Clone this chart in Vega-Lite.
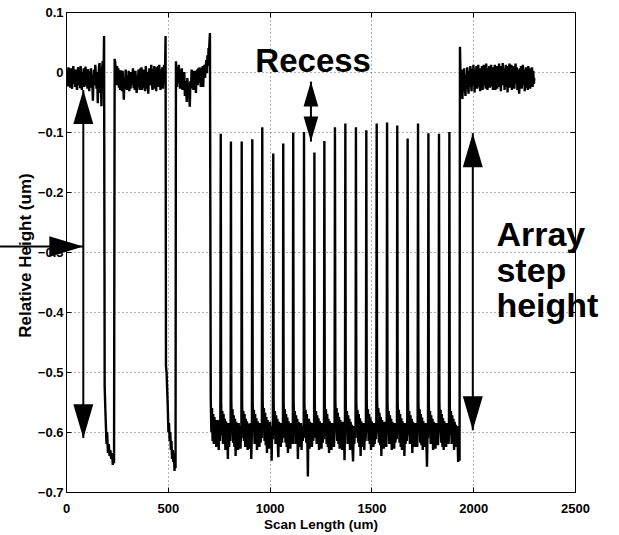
{
"$schema": "https://vega.github.io/schema/vega-lite/v6.json",
"width": 509, "height": 480,
"autosize": {"type": "none"},
"padding": {"left": 66, "top": 12, "right": 44, "bottom": 43},
"background": "white",
"config": {"view": {"stroke": "#000", "strokeWidth": 1}, "font": "Liberation Sans"},
"datasets": {
"profile": [
{"x":0,"y":-0.005},{"x":3,"y":-0.02},{"x":6,"y":0.004},{"x":9,"y":-0.024},{"x":12,"y":0.008},{"x":15,"y":-0.018},{"x":18,"y":0.002},{"x":21,"y":-0.026},{"x":24,"y":0.006},{"x":27,"y":-0.015},{"x":30,"y":-0.028},{"x":33,"y":0.0},{"x":36,"y":0.01},{"x":39,"y":-0.02},{"x":42,"y":-0.005},{"x":45,"y":-0.025},{"x":48,"y":0.004},{"x":51,"y":-0.018},{"x":54,"y":-0.03},{"x":57,"y":0.002},{"x":60,"y":0.008},{"x":63,"y":-0.022},{"x":66,"y":-0.004},{"x":69,"y":-0.027},{"x":72,"y":0.01},{"x":75,"y":-0.012},{"x":78,"y":-0.03},{"x":81,"y":0.0},{"x":84,"y":-0.02},{"x":87,"y":0.006},{"x":90,"y":-0.025},{"x":93,"y":-0.008},{"x":96,"y":0.009},{"x":99,"y":-0.022},{"x":102,"y":-0.003},{"x":105,"y":-0.028},{"x":108,"y":0.005},{"x":111,"y":-0.015},{"x":114,"y":-0.032},{"x":117,"y":0.002},{"x":120,"y":-0.018},{"x":123,"y":0.006},{"x":126,"y":-0.026},{"x":129,"y":-0.01},{"x":132,"y":-0.048},{"x":135,"y":-0.012},{"x":138,"y":0.004},{"x":141,"y":-0.022},{"x":144,"y":0.012},{"x":147,"y":-0.008},{"x":150,"y":-0.028},{"x":153,"y":0.0},{"x":156,"y":-0.052},{"x":159,"y":-0.015},{"x":162,"y":0.008},{"x":165,"y":0.015},{"x":168,"y":-0.035},{"x":171,"y":-0.01},{"x":174,"y":-0.057},{"x":177,"y":0.002},{"x":180,"y":0.018},{"x":183,"y":-0.015},{"x":185,"y":0.01},{"x":187,"y":0.06},
{"x":190,"y":-0.525},{"x":193,"y":-0.56},{"x":196,"y":-0.59},{"x":199,"y":-0.62},{"x":202,"y":-0.6},{"x":206,"y":-0.635},{"x":210,"y":-0.62},{"x":214,"y":-0.64},{"x":218,"y":-0.63},{"x":222,"y":-0.645},{"x":226,"y":-0.635},{"x":230,"y":-0.655},{"x":233,"y":-0.64},{"x":236,"y":-0.652},{"x":239,"y":0.022},
{"x":242,"y":0.015},{"x":245,"y":-0.005},{"x":248,"y":-0.022},{"x":251,"y":0.01},{"x":254,"y":-0.012},{"x":257,"y":0.006},{"x":260,"y":-0.026},{"x":263,"y":-0.004},{"x":266,"y":-0.03},{"x":269,"y":0.003},{"x":272,"y":-0.018},{"x":275,"y":-0.032},{"x":278,"y":0.002},{"x":281,"y":-0.02},{"x":284,"y":-0.046},{"x":287,"y":-0.01},{"x":290,"y":-0.028},{"x":293,"y":0.004},{"x":296,"y":-0.015},{"x":299,"y":-0.03},{"x":302,"y":-0.005},{"x":305,"y":-0.025},{"x":308,"y":0.002},{"x":311,"y":-0.032},{"x":314,"y":-0.01},{"x":317,"y":-0.028},{"x":320,"y":0.0},{"x":323,"y":-0.022},{"x":326,"y":-0.008},{"x":329,"y":0.006},{"x":332,"y":-0.027},{"x":335,"y":-0.012},{"x":338,"y":-0.03},{"x":341,"y":0.002},{"x":344,"y":-0.02},{"x":347,"y":-0.035},{"x":350,"y":-0.006},{"x":353,"y":-0.025},{"x":356,"y":0.004},{"x":359,"y":-0.018},{"x":362,"y":-0.03},{"x":365,"y":0.006},{"x":368,"y":-0.012},{"x":371,"y":0.008},{"x":374,"y":-0.03},{"x":377,"y":-0.005},{"x":380,"y":-0.026},{"x":383,"y":0.004},{"x":386,"y":-0.02},{"x":389,"y":-0.032},{"x":392,"y":0.01},{"x":395,"y":-0.01},{"x":398,"y":-0.028},{"x":401,"y":0.0},{"x":404,"y":-0.036},{"x":407,"y":-0.008},{"x":410,"y":0.006},{"x":413,"y":-0.022},{"x":416,"y":-0.002},{"x":419,"y":0.012},{"x":422,"y":-0.02},{"x":425,"y":-0.03},{"x":428,"y":0.005},{"x":431,"y":-0.015},{"x":434,"y":0.01},{"x":437,"y":-0.028},{"x":440,"y":-0.005},{"x":443,"y":-0.032},{"x":446,"y":0.008},{"x":449,"y":-0.018},{"x":452,"y":0.01},{"x":455,"y":-0.025},{"x":458,"y":0.012},{"x":461,"y":-0.01},{"x":464,"y":-0.03},{"x":467,"y":0.004},{"x":470,"y":-0.02},{"x":473,"y":0.008},{"x":476,"y":-0.028},{"x":479,"y":0.0},{"x":482,"y":0.012},{"x":485,"y":-0.02},{"x":487,"y":0.01},{"x":489,"y":0.06},
{"x":491,"y":-0.49},{"x":494,"y":-0.5},{"x":497,"y":-0.53},{"x":500,"y":-0.56},{"x":503,"y":-0.6},{"x":506,"y":-0.585},{"x":509,"y":-0.615},{"x":512,"y":-0.6},{"x":515,"y":-0.63},{"x":518,"y":-0.615},{"x":521,"y":-0.645},{"x":524,"y":-0.63},{"x":527,"y":-0.65},{"x":530,"y":-0.635},{"x":533,"y":-0.665},{"x":536,"y":-0.645},{"x":538,"y":-0.66},{"x":540,"y":0.018},
{"x":542,"y":-0.005},{"x":545,"y":-0.025},{"x":548,"y":0.008},{"x":551,"y":-0.018},{"x":554,"y":0.012},{"x":557,"y":-0.01},{"x":560,"y":-0.028},{"x":563,"y":0.004},{"x":566,"y":-0.015},{"x":569,"y":0.006},{"x":572,"y":-0.03},{"x":575,"y":-0.008},{"x":578,"y":-0.022},{"x":581,"y":0.0},{"x":584,"y":-0.04},{"x":587,"y":-0.015},{"x":590,"y":-0.025},{"x":593,"y":-0.05},{"x":596,"y":-0.01},{"x":599,"y":-0.03},{"x":602,"y":-0.018},{"x":605,"y":-0.04},{"x":608,"y":-0.058},{"x":611,"y":-0.015},{"x":614,"y":-0.028},{"x":617,"y":0.004},{"x":620,"y":-0.02},{"x":623,"y":0.002},{"x":626,"y":-0.03},{"x":629,"y":-0.008},{"x":632,"y":-0.025},{"x":635,"y":0.002},{"x":638,"y":-0.035},{"x":641,"y":-0.01},{"x":644,"y":0.004},{"x":647,"y":-0.022},{"x":650,"y":0.006},{"x":653,"y":-0.018},{"x":656,"y":0.008},{"x":659,"y":-0.012},{"x":662,"y":-0.025},{"x":665,"y":0.006},{"x":668,"y":-0.015},{"x":671,"y":0.01},{"x":674,"y":-0.025},{"x":677,"y":0.004},{"x":680,"y":0.012},{"x":683,"y":-0.01},{"x":686,"y":0.008},{"x":689,"y":0.02},{"x":692,"y":-0.002},{"x":695,"y":0.028},{"x":698,"y":0.01},{"x":700,"y":0.04},{"x":702,"y":0.02},{"x":704,"y":0.045},{"x":707,"y":0.065},
{"x":711,"y":-0.545},{"x":714,"y":-0.6},{"x":717,"y":-0.56},{"x":720,"y":-0.615},{"x":723,"y":-0.57},{"x":726,"y":-0.62},{"x":729,"y":-0.575},{"x":732,"y":-0.61},{"x":735,"y":-0.58},{"x":738,"y":-0.625},{"x":741,"y":-0.585},{"x":744,"y":-0.615},{"x":747,"y":-0.58},{"x":750,"y":-0.63},{"x":753,"y":-0.59},{"x":756,"y":-0.615},{"x":758,"y":-0.595},
{"x":760,"y":-0.103},{"x":762,"y":-0.55},{"x":765,"y":-0.605},{"x":768,"y":-0.565},{"x":771,"y":-0.62},{"x":774,"y":-0.57},{"x":777,"y":-0.615},{"x":780,"y":-0.578},{"x":783,"y":-0.63},{"x":786,"y":-0.582},{"x":789,"y":-0.62},{"x":792,"y":-0.59},{"x":795,"y":-0.645},{"x":798,"y":-0.585},{"x":801,"y":-0.625},{"x":804,"y":-0.59},{"x":807,"y":-0.615},{"x":808.5,"y":-0.6},
{"x":810,"y":-0.116},{"x":812,"y":-0.548},{"x":815,"y":-0.6},{"x":818,"y":-0.562},{"x":821,"y":-0.618},{"x":824,"y":-0.572},{"x":827,"y":-0.625},{"x":830,"y":-0.578},{"x":833,"y":-0.64},{"x":836,"y":-0.583},{"x":839,"y":-0.62},{"x":842,"y":-0.588},{"x":845,"y":-0.63},{"x":848,"y":-0.585},{"x":851,"y":-0.615},{"x":854,"y":-0.59},{"x":857,"y":-0.628},{"x":860,"y":-0.595},{"x":861.5,"y":-0.61},
{"x":863,"y":-0.116},{"x":865,"y":-0.552},{"x":868,"y":-0.605},{"x":871,"y":-0.565},{"x":874,"y":-0.615},{"x":877,"y":-0.57},{"x":880,"y":-0.625},{"x":883,"y":-0.578},{"x":886,"y":-0.618},{"x":889,"y":-0.582},{"x":892,"y":-0.63},{"x":895,"y":-0.586},{"x":898,"y":-0.62},{"x":901,"y":-0.59},{"x":904,"y":-0.628},{"x":907,"y":-0.585},{"x":910,"y":-0.645},{"x":913,"y":-0.6},
{"x":915,"y":-0.112},{"x":917,"y":-0.55},{"x":920,"y":-0.6},{"x":923,"y":-0.563},{"x":926,"y":-0.62},{"x":929,"y":-0.57},{"x":932,"y":-0.615},{"x":935,"y":-0.577},{"x":938,"y":-0.63},{"x":941,"y":-0.582},{"x":944,"y":-0.62},{"x":947,"y":-0.588},{"x":950,"y":-0.625},{"x":953,"y":-0.585},{"x":956,"y":-0.618},{"x":959,"y":-0.592},{"x":962,"y":-0.61},
{"x":964,"y":-0.092},{"x":966,"y":-0.547},{"x":969,"y":-0.598},{"x":972,"y":-0.56},{"x":975,"y":-0.615},{"x":978,"y":-0.568},{"x":981,"y":-0.622},{"x":984,"y":-0.575},{"x":987,"y":-0.635},{"x":990,"y":-0.58},{"x":993,"y":-0.62},{"x":996,"y":-0.586},{"x":999,"y":-0.628},{"x":1002,"y":-0.583},{"x":1005,"y":-0.615},{"x":1008,"y":-0.59},{"x":1010,"y":-0.648},{"x":1013,"y":-0.592},{"x":1016,"y":-0.612},
{"x":1018,"y":-0.136},{"x":1020,"y":-0.552},{"x":1023,"y":-0.605},{"x":1026,"y":-0.565},{"x":1029,"y":-0.62},{"x":1032,"y":-0.572},{"x":1035,"y":-0.615},{"x":1038,"y":-0.578},{"x":1041,"y":-0.628},{"x":1043,"y":-0.642},{"x":1046,"y":-0.583},{"x":1049,"y":-0.62},{"x":1052,"y":-0.588},{"x":1055,"y":-0.625},{"x":1058,"y":-0.585},{"x":1061,"y":-0.618},{"x":1064,"y":-0.595},{"x":1065.5,"y":-0.61},
{"x":1067,"y":-0.119},{"x":1069,"y":-0.55},{"x":1072,"y":-0.6},{"x":1075,"y":-0.562},{"x":1078,"y":-0.618},{"x":1081,"y":-0.57},{"x":1084,"y":-0.625},{"x":1087,"y":-0.576},{"x":1090,"y":-0.635},{"x":1093,"y":-0.582},{"x":1096,"y":-0.62},{"x":1099,"y":-0.587},{"x":1102,"y":-0.628},{"x":1105,"y":-0.585},{"x":1108,"y":-0.615},{"x":1111,"y":-0.59},{"x":1114,"y":-0.62},
{"x":1116,"y":-0.101},{"x":1118,"y":-0.548},{"x":1121,"y":-0.603},{"x":1124,"y":-0.565},{"x":1127,"y":-0.62},{"x":1130,"y":-0.572},{"x":1133,"y":-0.618},{"x":1136,"y":-0.578},{"x":1139,"y":-0.645},{"x":1142,"y":-0.583},{"x":1145,"y":-0.625},{"x":1148,"y":-0.588},{"x":1151,"y":-0.62},{"x":1154,"y":-0.585},{"x":1157,"y":-0.63},{"x":1160,"y":-0.59},{"x":1163,"y":-0.615},{"x":1166,"y":-0.595},{"x":1167.5,"y":-0.61},
{"x":1169,"y":-0.1},{"x":1171,"y":-0.55},{"x":1174,"y":-0.6},{"x":1177,"y":-0.563},{"x":1180,"y":-0.618},{"x":1183,"y":-0.57},{"x":1186,"y":-0.625},{"x":1188,"y":-0.674},{"x":1190,"y":-0.6},{"x":1193,"y":-0.578},{"x":1196,"y":-0.628},{"x":1199,"y":-0.583},{"x":1202,"y":-0.62},{"x":1205,"y":-0.588},{"x":1208,"y":-0.625},{"x":1211,"y":-0.585},{"x":1214,"y":-0.615},{"x":1217,"y":-0.595},{"x":1218.5,"y":-0.61},
{"x":1220,"y":-0.134},{"x":1222,"y":-0.552},{"x":1225,"y":-0.605},{"x":1228,"y":-0.565},{"x":1231,"y":-0.62},{"x":1234,"y":-0.572},{"x":1237,"y":-0.615},{"x":1240,"y":-0.577},{"x":1243,"y":-0.63},{"x":1246,"y":-0.582},{"x":1249,"y":-0.62},{"x":1252,"y":-0.588},{"x":1255,"y":-0.628},{"x":1258,"y":-0.585},{"x":1261,"y":-0.618},{"x":1264,"y":-0.592},{"x":1267,"y":-0.612},
{"x":1269,"y":-0.115},{"x":1271,"y":-0.55},{"x":1274,"y":-0.6},{"x":1277,"y":-0.562},{"x":1280,"y":-0.62},{"x":1283,"y":-0.57},{"x":1286,"y":-0.625},{"x":1289,"y":-0.578},{"x":1292,"y":-0.635},{"x":1295,"y":-0.582},{"x":1298,"y":-0.62},{"x":1301,"y":-0.587},{"x":1304,"y":-0.63},{"x":1307,"y":-0.585},{"x":1310,"y":-0.615},{"x":1313,"y":-0.59},{"x":1316,"y":-0.625},{"x":1319,"y":-0.6},
{"x":1321,"y":-0.092},{"x":1323,"y":-0.545},{"x":1326,"y":-0.598},{"x":1329,"y":-0.56},{"x":1332,"y":-0.615},{"x":1335,"y":-0.568},{"x":1338,"y":-0.62},{"x":1341,"y":-0.575},{"x":1344,"y":-0.628},{"x":1347,"y":-0.58},{"x":1350,"y":-0.62},{"x":1353,"y":-0.586},{"x":1356,"y":-0.63},{"x":1359,"y":-0.583},{"x":1362,"y":-0.618},{"x":1365,"y":-0.59},{"x":1368,"y":-0.647},{"x":1370,"y":-0.6},
{"x":1372,"y":-0.086},{"x":1374,"y":-0.55},{"x":1377,"y":-0.603},{"x":1380,"y":-0.565},{"x":1383,"y":-0.62},{"x":1386,"y":-0.572},{"x":1389,"y":-0.615},{"x":1392,"y":-0.578},{"x":1395,"y":-0.63},{"x":1398,"y":-0.583},{"x":1401,"y":-0.62},{"x":1404,"y":-0.588},{"x":1407,"y":-0.628},{"x":1410,"y":-0.649},{"x":1413,"y":-0.59},{"x":1416,"y":-0.62},{"x":1419,"y":-0.595},{"x":1422,"y":-0.61},
{"x":1424,"y":-0.092},{"x":1426,"y":-0.548},{"x":1429,"y":-0.6},{"x":1432,"y":-0.563},{"x":1435,"y":-0.618},{"x":1438,"y":-0.57},{"x":1441,"y":-0.625},{"x":1444,"y":-0.577},{"x":1447,"y":-0.64},{"x":1450,"y":-0.582},{"x":1453,"y":-0.62},{"x":1456,"y":-0.588},{"x":1459,"y":-0.625},{"x":1462,"y":-0.585},{"x":1465,"y":-0.63},{"x":1468,"y":-0.592},{"x":1471,"y":-0.615},{"x":1473,"y":-0.6},
{"x":1475,"y":-0.097},{"x":1477,"y":-0.545},{"x":1480,"y":-0.6},{"x":1483,"y":-0.562},{"x":1486,"y":-0.615},{"x":1489,"y":-0.57},{"x":1492,"y":-0.62},{"x":1495,"y":-0.576},{"x":1498,"y":-0.63},{"x":1501,"y":-0.582},{"x":1504,"y":-0.618},{"x":1507,"y":-0.587},{"x":1510,"y":-0.625},{"x":1513,"y":-0.585},{"x":1516,"y":-0.62},{"x":1519,"y":-0.592},{"x":1522,"y":-0.612},{"x":1524,"y":-0.6},
{"x":1526,"y":-0.086},{"x":1528,"y":-0.54},{"x":1531,"y":-0.598},{"x":1534,"y":-0.56},{"x":1537,"y":-0.618},{"x":1540,"y":-0.568},{"x":1543,"y":-0.622},{"x":1546,"y":-0.575},{"x":1549,"y":-0.64},{"x":1552,"y":-0.58},{"x":1555,"y":-0.62},{"x":1558,"y":-0.586},{"x":1561,"y":-0.628},{"x":1564,"y":-0.583},{"x":1567,"y":-0.615},{"x":1570,"y":-0.59},{"x":1573,"y":-0.625},{"x":1575,"y":-0.605},
{"x":1577,"y":-0.084},{"x":1579,"y":-0.548},{"x":1582,"y":-0.603},{"x":1585,"y":-0.565},{"x":1588,"y":-0.62},{"x":1591,"y":-0.572},{"x":1594,"y":-0.615},{"x":1597,"y":-0.578},{"x":1600,"y":-0.63},{"x":1603,"y":-0.583},{"x":1606,"y":-0.62},{"x":1609,"y":-0.588},{"x":1612,"y":-0.628},{"x":1615,"y":-0.585},{"x":1618,"y":-0.618},{"x":1621,"y":-0.592},{"x":1624,"y":-0.612},{"x":1625.5,"y":-0.6},
{"x":1627,"y":-0.089},{"x":1629,"y":-0.55},{"x":1632,"y":-0.6},{"x":1635,"y":-0.563},{"x":1638,"y":-0.618},{"x":1641,"y":-0.57},{"x":1644,"y":-0.625},{"x":1647,"y":-0.577},{"x":1650,"y":-0.63},{"x":1653,"y":-0.582},{"x":1656,"y":-0.62},{"x":1659,"y":-0.588},{"x":1662,"y":-0.64},{"x":1665,"y":-0.585},{"x":1668,"y":-0.62},{"x":1671,"y":-0.592},{"x":1674,"y":-0.615},{"x":1676,"y":-0.6},
{"x":1678,"y":-0.111},{"x":1680,"y":-0.55},{"x":1683,"y":-0.605},{"x":1686,"y":-0.565},{"x":1689,"y":-0.62},{"x":1692,"y":-0.572},{"x":1695,"y":-0.615},{"x":1698,"y":-0.578},{"x":1701,"y":-0.635},{"x":1704,"y":-0.583},{"x":1707,"y":-0.62},{"x":1710,"y":-0.588},{"x":1713,"y":-0.625},{"x":1716,"y":-0.585},{"x":1719,"y":-0.618},{"x":1722,"y":-0.592},{"x":1725,"y":-0.625},{"x":1727,"y":-0.605},
{"x":1729,"y":-0.086},{"x":1731,"y":-0.548},{"x":1734,"y":-0.6},{"x":1737,"y":-0.562},{"x":1740,"y":-0.618},{"x":1743,"y":-0.57},{"x":1746,"y":-0.622},{"x":1749,"y":-0.576},{"x":1752,"y":-0.63},{"x":1755,"y":-0.582},{"x":1758,"y":-0.62},{"x":1761,"y":-0.587},{"x":1764,"y":-0.625},{"x":1767,"y":-0.585},{"x":1770,"y":-0.615},{"x":1773,"y":-0.658},{"x":1776,"y":-0.595},{"x":1778,"y":-0.61},
{"x":1780,"y":-0.102},{"x":1782,"y":-0.552},{"x":1785,"y":-0.603},{"x":1788,"y":-0.565},{"x":1791,"y":-0.62},{"x":1794,"y":-0.572},{"x":1797,"y":-0.615},{"x":1800,"y":-0.578},{"x":1803,"y":-0.63},{"x":1806,"y":-0.583},{"x":1809,"y":-0.62},{"x":1812,"y":-0.588},{"x":1815,"y":-0.628},{"x":1818,"y":-0.585},{"x":1821,"y":-0.618},{"x":1824,"y":-0.59},{"x":1827,"y":-0.622},{"x":1830,"y":-0.6},
{"x":1832,"y":-0.103},{"x":1834,"y":-0.55},{"x":1837,"y":-0.6},{"x":1840,"y":-0.563},{"x":1843,"y":-0.618},{"x":1846,"y":-0.57},{"x":1849,"y":-0.625},{"x":1852,"y":-0.577},{"x":1855,"y":-0.63},{"x":1858,"y":-0.582},{"x":1861,"y":-0.62},{"x":1864,"y":-0.588},{"x":1867,"y":-0.625},{"x":1870,"y":-0.585},{"x":1873,"y":-0.615},{"x":1876,"y":-0.592},{"x":1879,"y":-0.62},{"x":1881,"y":-0.6},
{"x":1883,"y":-0.1},{"x":1885,"y":-0.552},{"x":1888,"y":-0.605},{"x":1891,"y":-0.565},{"x":1894,"y":-0.62},{"x":1897,"y":-0.572},{"x":1900,"y":-0.615},{"x":1903,"y":-0.578},{"x":1906,"y":-0.63},{"x":1909,"y":-0.583},{"x":1912,"y":-0.62},{"x":1915,"y":-0.588},{"x":1918,"y":-0.625},{"x":1921,"y":-0.59},{"x":1924,"y":-0.62},{"x":1926,"y":-0.65},{"x":1929,"y":-0.6},{"x":1931,"y":-0.635},{"x":1933,"y":-0.648},
{"x":1935,"y":0.042},
{"x":1938,"y":-0.01},{"x":1941,"y":-0.035},{"x":1944,"y":0.004},{"x":1947,"y":-0.045},{"x":1950,"y":-0.012},{"x":1953,"y":-0.03},{"x":1956,"y":0.006},{"x":1959,"y":-0.025},{"x":1962,"y":-0.04},{"x":1965,"y":-0.005},{"x":1968,"y":-0.028},{"x":1971,"y":0.008},{"x":1974,"y":-0.02},{"x":1977,"y":-0.036},{"x":1980,"y":0.002},{"x":1983,"y":-0.025},{"x":1986,"y":0.01},{"x":1989,"y":-0.015},{"x":1992,"y":-0.032},{"x":1995,"y":0.005},{"x":1998,"y":-0.022},{"x":2001,"y":0.012},{"x":2004,"y":-0.01},{"x":2007,"y":-0.034},{"x":2010,"y":0.004},{"x":2013,"y":-0.02},{"x":2016,"y":0.01},{"x":2019,"y":-0.028},{"x":2022,"y":-0.006},{"x":2025,"y":0.012},{"x":2028,"y":-0.025},{"x":2031,"y":-0.005},{"x":2034,"y":-0.032},{"x":2037,"y":0.006},{"x":2040,"y":-0.018},{"x":2043,"y":0.01},{"x":2046,"y":-0.03},{"x":2049,"y":-0.008},{"x":2052,"y":0.012},{"x":2055,"y":-0.022},{"x":2058,"y":0.004},{"x":2061,"y":-0.028},{"x":2064,"y":0.014},{"x":2067,"y":-0.012},{"x":2070,"y":-0.03},{"x":2073,"y":0.006},{"x":2076,"y":-0.02},{"x":2079,"y":0.01},{"x":2082,"y":-0.026},{"x":2085,"y":-0.004},{"x":2088,"y":0.012},{"x":2091,"y":-0.024},{"x":2094,"y":0.002},{"x":2097,"y":-0.03},{"x":2100,"y":0.008},{"x":2103,"y":-0.018},{"x":2106,"y":0.012},{"x":2109,"y":-0.03},{"x":2112,"y":-0.006},{"x":2115,"y":0.01},{"x":2118,"y":-0.028},{"x":2121,"y":0.004},{"x":2124,"y":-0.02},{"x":2127,"y":0.014},{"x":2130,"y":-0.025},{"x":2133,"y":0.0},{"x":2136,"y":-0.032},{"x":2139,"y":0.01},{"x":2142,"y":-0.018},{"x":2145,"y":0.015},{"x":2148,"y":-0.022},{"x":2151,"y":0.006},{"x":2154,"y":-0.03},{"x":2157,"y":-0.01},{"x":2160,"y":0.012},{"x":2163,"y":-0.025},{"x":2166,"y":0.004},{"x":2169,"y":-0.034},{"x":2172,"y":0.01},{"x":2175,"y":-0.02},{"x":2178,"y":0.014},{"x":2181,"y":-0.026},{"x":2184,"y":-0.004},{"x":2187,"y":0.012},{"x":2190,"y":-0.03},{"x":2193,"y":0.006},{"x":2196,"y":-0.022},{"x":2199,"y":0.01},{"x":2202,"y":-0.028},{"x":2205,"y":-0.002},{"x":2208,"y":0.014},{"x":2211,"y":-0.02},{"x":2214,"y":0.008},{"x":2217,"y":-0.03},{"x":2220,"y":0.004},{"x":2223,"y":-0.024},{"x":2226,"y":-0.036},{"x":2229,"y":0.006},{"x":2232,"y":-0.018},{"x":2235,"y":0.01},{"x":2238,"y":-0.028},{"x":2241,"y":0.002},{"x":2244,"y":0.012},{"x":2247,"y":-0.022},{"x":2250,"y":0.004},{"x":2253,"y":-0.032},{"x":2256,"y":-0.01},{"x":2259,"y":0.008},{"x":2262,"y":-0.026},{"x":2265,"y":0.0},{"x":2268,"y":-0.03},{"x":2271,"y":0.01},{"x":2274,"y":-0.02},{"x":2277,"y":0.006},{"x":2280,"y":-0.028},{"x":2283,"y":0.004},{"x":2286,"y":-0.018},{"x":2289,"y":0.008},{"x":2292,"y":-0.025},{"x":2295,"y":0.002},{"x":2298,"y":-0.02},{"x":2300,"y":-0.01}
],
"shafts": [
{"x":85,"y":-0.03,"x2":85,"y2":-0.61},
{"x":-324,"y":-0.291,"x2":85,"y2":-0.291},
{"x":1203,"y":-0.016,"x2":1203,"y2":-0.116},
{"x":1998,"y":-0.102,"x2":1998,"y2":-0.597}
],
"heads": [
{"x":85,"y":-0.03,"dir":"up","kind":"big"},
{"x":85,"y":-0.6105,"dir":"down","kind":"big"},
{"x":85,"y":-0.291,"dir":"right","kind":"big"},
{"x":1998,"y":-0.102,"dir":"up","kind":"big"},
{"x":1998,"y":-0.597,"dir":"down","kind":"big"},
{"x":1203,"y":-0.016,"dir":"up","kind":"small"},
{"x":1203,"y":-0.116,"dir":"down","kind":"small"}
],
"labels": [
{"x":1214,"y":0.0,"text":"Recess","align":"center"},
{"x":2114,"y":-0.29,"text":"Array\nstep\nheight","align":"left"}
]
},
"layer": [
{
"data": {"name": "profile"},
"mark": {"type": "line", "color": "#000", "strokeWidth": 2.4, "clip": true},
"encoding": {
"x": {"field": "x", "type": "quantitative", "scale": {"domain": [0, 2500], "nice": false, "zero": false},
"axis": {"orient": "bottom", "values": [0, 500, 1000, 1500, 2000, 2500], "format": "d", "grid": true, "gridDash": [1, 3], "gridColor": "#000", "gridOpacity": 0.6, "gridWidth": 1, "domain": false, "tickSize": -5, "tickColor": "#000", "tickWidth": 1, "labelPadding": 15, "labelFont": "Liberation Sans", "labelFontWeight": 700, "labelFontSize": 13, "labelColor": "#000", "labelFlush": false, "title": "Scan Length (um)", "titleFont": "Liberation Sans", "titleFontSize": 13.5, "titleFontWeight": "bold", "titleColor": "#000", "titleBaseline": "top", "titleY": 25}},
"y": {"field": "y", "type": "quantitative", "scale": {"domain": [-0.7, 0.1], "nice": false, "zero": false},
"axis": {"orient": "left", "values": [-0.7, -0.6, -0.5, -0.4, -0.3, -0.2, -0.1, 0, 0.1], "format": "~g", "grid": true, "gridDash": [1, 3], "gridColor": "#000", "gridOpacity": 0.6, "gridWidth": 1, "domain": false, "tickSize": -5, "tickColor": "#000", "tickWidth": 1, "labelPadding": 8, "labelFont": "Liberation Sans", "labelFontWeight": 700, "labelFontSize": 13, "labelColor": "#000", "labelFlush": false, "title": "Relative Height (um)", "titleFont": "Liberation Sans", "titleFontSize": 17, "titleFontWeight": "bold", "titleColor": "#000", "titleAngle": -90, "titleAlign": "center", "titleBaseline": "bottom", "titleX": -32, "titleY": 243}}
}
},
{
"data": {"name": "shafts"},
"mark": {"type": "rule", "color": "#000", "strokeWidth": 2, "clip": false},
"encoding": {
"x": {"field": "x", "type": "quantitative", "scale": {"domain": [0, 2500], "nice": false, "zero": false},
"axis": {"orient": "top", "values": [0, 500, 1000, 1500, 2000, 2500], "labels": false, "grid": false, "domain": false, "tickSize": -5, "tickColor": "#000", "title": null}},
"y": {"field": "y", "type": "quantitative", "scale": {"domain": [-0.7, 0.1], "nice": false, "zero": false},
"axis": {"orient": "right", "values": [-0.7, -0.6, -0.5, -0.4, -0.3, -0.2, -0.1, 0, 0.1], "labels": false, "grid": false, "domain": false, "tickSize": -5, "tickColor": "#000", "title": null}},
"x2": {"field": "x2"},
"y2": {"field": "y2"}
}
},
{
"data": {"name": "heads"},
"transform": [{"filter": "datum.kind === 'big'"}],
"mark": {"type": "point", "filled": true, "color": "#000", "opacity": 1, "size": 1156, "strokeWidth": 0, "clip": false},
"encoding": {
"x": {"field": "x", "type": "quantitative", "scale": {"domain": [0, 2500], "nice": false, "zero": false}, "axis": null},
"y": {"field": "y", "type": "quantitative", "scale": {"domain": [-0.7, 0.1], "nice": false, "zero": false}, "axis": null},
"shape": {"field": "dir", "type": "nominal", "scale": {"domain": ["up", "down", "right"], "range": ["M0,0L-0.588,2L0.588,2Z", "M0,0L-0.588,-2L0.588,-2Z", "M0,0L-2,-0.606L-2,0.606Z"]}, "legend": null}
}
},
{
"data": {"name": "heads"},
"transform": [{"filter": "datum.kind === 'small'"}],
"mark": {"type": "point", "filled": true, "color": "#000", "opacity": 1, "size": 625, "strokeWidth": 0, "clip": false},
"encoding": {
"x": {"field": "x", "type": "quantitative", "scale": {"domain": [0, 2500], "nice": false, "zero": false}, "axis": null},
"y": {"field": "y", "type": "quantitative", "scale": {"domain": [-0.7, 0.1], "nice": false, "zero": false}, "axis": null},
"shape": {"field": "dir", "type": "nominal", "scale": {"domain": ["up", "down", "right"], "range": ["M0,0L-0.6,2L0.6,2Z", "M0,0L-0.6,-2L0.6,-2Z", "M0,0L-2,-0.606L-2,0.606Z"]}, "legend": null}
}
},
{
"data": {"name": "labels"},
"transform": [{"filter": "datum.align === 'center'"}],
"mark": {"type": "text", "font": "Liberation Sans", "fontWeight": "bold", "fontSize": 33, "color": "#000", "align": "center", "baseline": "alphabetic", "clip": false},
"encoding": {
"x": {"field": "x", "type": "quantitative", "scale": {"domain": [0, 2500], "nice": false, "zero": false}, "axis": null},
"y": {"field": "y", "type": "quantitative", "scale": {"domain": [-0.7, 0.1], "nice": false, "zero": false}, "axis": null},
"text": {"field": "text"}
}
},
{
"data": {"name": "labels"},
"transform": [{"filter": "datum.align === 'left'"}],
"mark": {"type": "text", "font": "Liberation Sans", "fontWeight": "bold", "fontSize": 34, "lineHeight": 35.5, "lineBreak": "\n", "color": "#000", "align": "left", "baseline": "alphabetic", "clip": false},
"encoding": {
"x": {"field": "x", "type": "quantitative", "scale": {"domain": [0, 2500], "nice": false, "zero": false}, "axis": null},
"y": {"field": "y", "type": "quantitative", "scale": {"domain": [-0.7, 0.1], "nice": false, "zero": false}, "axis": null},
"text": {"field": "text"}
}
}
],
"resolve": {"axis": {"x": "independent", "y": "independent"}}
}
